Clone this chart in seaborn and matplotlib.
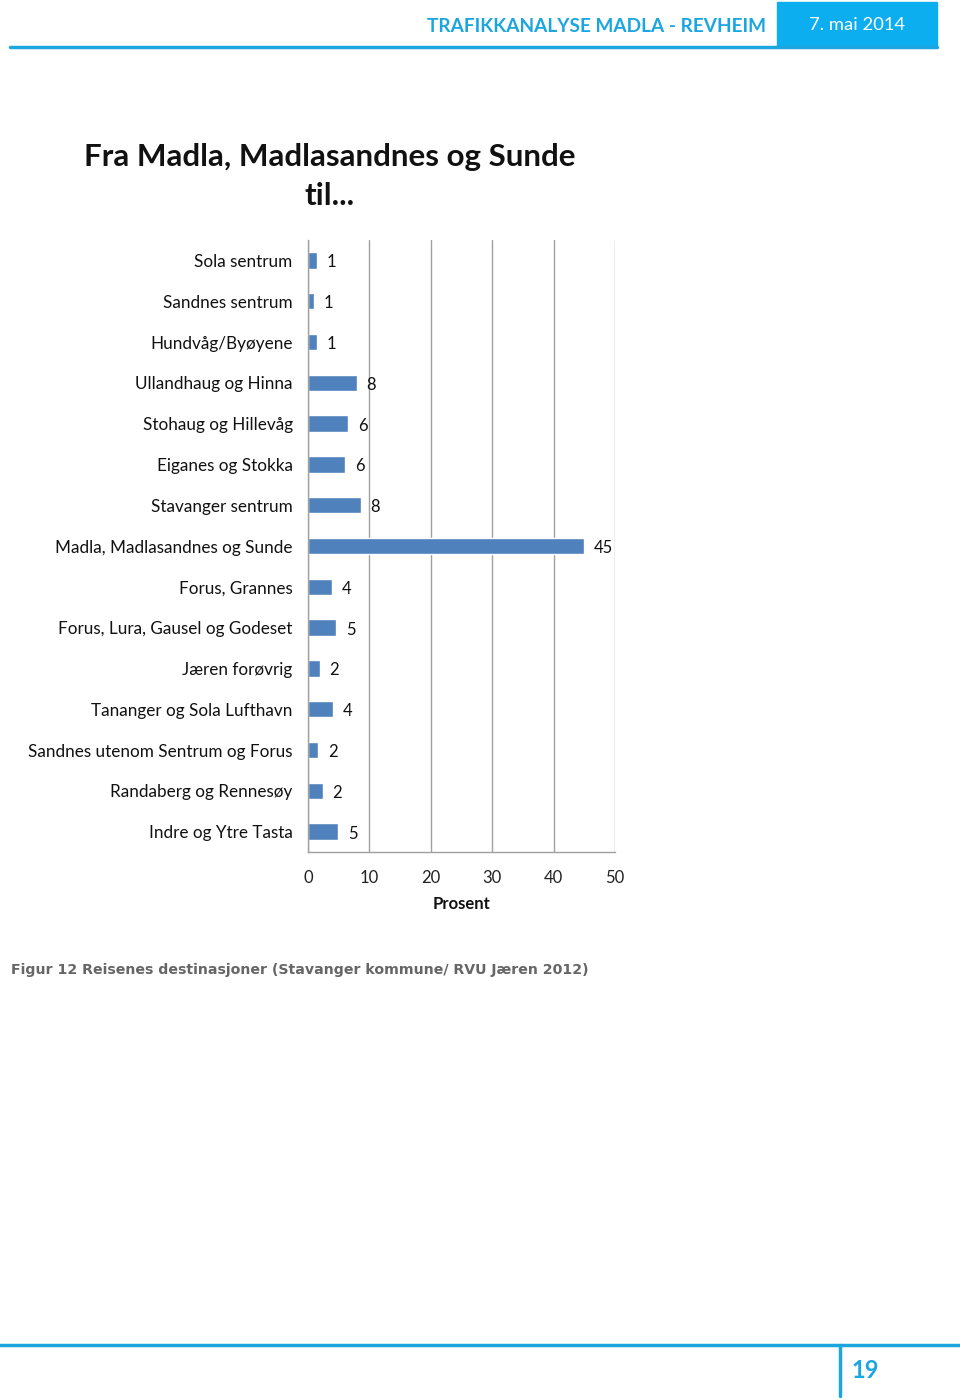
import matplotlib
matplotlib.use("Agg")
import matplotlib.pyplot as plt
import seaborn as sns
import pandas as pd

categories = [
    "Sola sentrum", "Sandnes sentrum", "Hundvåg/Byøyene", "Ullandhaug og Hinna",
    "Stohaug og Hillevåg", "Eiganes og Stokka", "Stavanger sentrum",
    "Madla, Madlasandnes og Sunde", "Forus, Grannes", "Forus, Lura, Gausel og Godeset",
    "Jæren forøvrig", "Tananger og Sola Lufthavn", "Sandnes utenom Sentrum og Forus",
    "Randaberg og Rennesøy", "Indre og Ytre Tasta",
]
values = [1.4, 1.0, 1.5, 7.9, 6.5, 6.0, 8.6, 44.9, 3.9, 4.6, 1.9, 4.0, 1.7, 2.4, 4.9]
value_labels = ["1", "1", "1", "8", "6", "6", "8", "45", "4", "5", "2", "4", "2", "2", "5"]
x_ticks = [0, 10, 20, 30, 40, 50]

sns.set_theme(style="white")
plt.rcParams["font.family"] = ["Lato", "DejaVu Sans"]

W, H = 960, 1400
fig = plt.figure(figsize=(W / 100, H / 100), dpi=100)
ax = fig.add_axes([308 / W, 1 - 852 / H, (615 - 308) / W, (852 - 240) / H])

df = pd.DataFrame({"cat": categories, "val": values})
sns.barplot(data=df, x="val", y="cat", orient="h", color="#4F81BD", saturation=1,
            width=0.4, ax=ax)

ax.set_xlim(0, 50)
ax.set_ylim(len(categories) - 0.5, -0.5)
ax.set_xticks(x_ticks)
ax.set_xticklabels([str(t) for t in x_ticks], fontsize=12, color="#222222")
ax.tick_params(axis="x", pad=13, length=0)
ax.tick_params(axis="y", pad=11, length=0, labelsize=12.3, labelcolor="#111111")
ax.grid(axis="x", color="#A0A0A0", linewidth=1)
ax.set_axisbelow(True)
for s in ["top", "right"]:
    ax.spines[s].set_visible(False)
for s in ["left", "bottom"]:
    ax.spines[s].set_color("#A0A0A0")
    ax.spines[s].set_linewidth(1)
ax.set_ylabel("")
ax.set_xlabel("Prosent", fontsize=12, fontweight="bold", color="#111111", labelpad=7)

for i, (v, lab) in enumerate(zip(values, value_labels)):
    ax.text(v + 1.6, i + 0.05, lab, ha="left", va="center", fontsize=12, color="#111111")

# Title
fig.text(330 / W, 1 - 157 / H, "Fra Madla, Madlasandnes og Sunde", ha="center", va="center",
         fontsize=22.6, fontweight="bold", color="#111111")
fig.text(330 / W, 1 - 196 / H, "til...", ha="center", va="center",
         fontsize=22.6, fontweight="bold", color="#111111")

# Header
cyan = "#1BA6E0"
fig.text(766 / W, 1 - 26 / H, "TRAFIKKANALYSE MADLA - REVHEIM", ha="right", va="center",
         fontsize=13.7, fontweight="bold", color=cyan)
fig.patches.append(plt.Rectangle((777 / W, 1 - 47 / H), 160 / W, 45 / H,
                                 transform=fig.transFigure, color="#0DAEEF", zorder=1))
fig.text(857 / W, 1 - 25 / H, "7. mai 2014", ha="center", va="center",
         fontsize=13.2, color="white", zorder=2)
fig.lines.append(plt.Line2D([10 / W, 937 / W], [1 - 46.5 / H, 1 - 46.5 / H],
                            transform=fig.transFigure, color=cyan, linewidth=2.5))

# Caption
fig.text(11 / W, 1 - 970 / H, "Figur 12 Reisenes destinasjoner (Stavanger kommune/ RVU Jæren 2012)",
         ha="left", va="center", fontsize=10.2, fontweight="bold", color="#666666",
         family=["DejaVu Sans"])

# Footer
fig.lines.append(plt.Line2D([0, 1], [1 - 1345 / H, 1 - 1345 / H],
                            transform=fig.transFigure, color=cyan, linewidth=2.5))
fig.lines.append(plt.Line2D([840 / W, 840 / W], [1 - 1345 / H, 1 - 1396 / H],
                            transform=fig.transFigure, color=cyan, linewidth=2.5))
fig.text(865 / W, 1 - 1370 / H, "19", ha="center", va="center",
         fontsize=17, fontweight="bold", color=cyan)

fig.savefig("out.png", dpi=100)
